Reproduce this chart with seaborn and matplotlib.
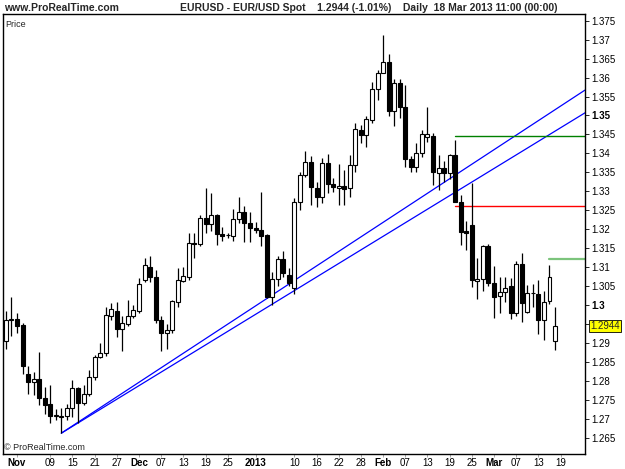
import numpy as np
import pandas as pd
import matplotlib
matplotlib.use("Agg")
import matplotlib.pyplot as plt
import seaborn as sns

# daily EUR/USD candles, 30 Oct 2012 .. 18 Mar 2013 (weekdays)
dates = pd.bdate_range("2012-10-30", "2013-03-18")

opens = [1.2904, 1.2960, 1.2963, 1.2948, 1.2818, 1.2798, 1.2804, 1.2754, 1.2739, 1.2706,
         1.2705, 1.2706, 1.2728, 1.2781, 1.2741, 1.2766, 1.2811, 1.2862, 1.2873, 1.2971,
         1.2985, 1.2936, 1.2950, 1.2971, 1.2985, 1.3065, 1.3100, 1.3073, 1.2960, 1.2925,
         1.2935, 1.3009, 1.3064, 1.3075, 1.3164, 1.3161, 1.3230, 1.3213, 1.3238, 1.3188,
         1.3184, 1.3182, 1.3226, 1.3246, 1.3217, 1.3203, 1.3198, 1.3185, 1.3022, 1.3068,
         1.3121, 1.3079, 1.3045, 1.3273, 1.3343, 1.3376, 1.3308, 1.3284, 1.3374, 1.3319,
         1.3309, 1.3314, 1.3308, 1.3370, 1.3462, 1.3449, 1.3488, 1.3569, 1.3613, 1.3640,
         1.3512, 1.3585, 1.3522, 1.3385, 1.3365, 1.3402, 1.3444, 1.3446, 1.3349, 1.3361,
         1.3348, 1.3396, 1.3273, 1.3195, 1.3211, 1.3064, 1.3068, 1.3156, 1.3059, 1.3024,
         1.3035, 1.3049, 1.2978, 1.3108, 1.2982, 1.3033, 1.3028, 1.2961, 1.3010, 1.2905]
highs = [1.2983, 1.3022, 1.2980, 1.2952, 1.2838, 1.2824, 1.2877, 1.2785, 1.2788, 1.2725,
         1.2728, 1.2740, 1.2803, 1.2783, 1.2790, 1.2829, 1.2868, 1.2899, 1.2994, 1.3006,
         1.3009, 1.2971, 1.3013, 1.3000, 1.3070, 1.3125, 1.3128, 1.3093, 1.2970, 1.2950,
         1.3012, 1.3097, 1.3100, 1.3189, 1.3190, 1.3238, 1.3308, 1.3295, 1.3240, 1.3207,
         1.3190, 1.3253, 1.3286, 1.3260, 1.3246, 1.3220, 1.3299, 1.3187, 1.3088, 1.3130,
         1.3143, 1.3097, 1.3282, 1.3352, 1.3405, 1.3393, 1.3325, 1.3387, 1.3398, 1.3334,
         1.3372, 1.3356, 1.3396, 1.3479, 1.3475, 1.3499, 1.3589, 1.3620, 1.3712, 1.3662,
         1.3595, 1.3595, 1.3580, 1.3392, 1.3427, 1.3462, 1.3522, 1.3455, 1.3396, 1.3381,
         1.3398, 1.3435, 1.3290, 1.3222, 1.3321, 1.3123, 1.3159, 1.3161, 1.3103, 1.3075,
         1.3075, 1.3071, 1.3117, 1.3136, 1.3053, 1.3055, 1.3066, 1.3038, 1.3105, 1.2996]
lows = [1.2883, 1.2917, 1.2926, 1.2818, 1.2766, 1.2763, 1.2737, 1.2713, 1.2688, 1.2697,
        1.2662, 1.2697, 1.2705, 1.2690, 1.2737, 1.2760, 1.2803, 1.2860, 1.2866, 1.2960,
        1.2915, 1.2880, 1.2945, 1.2965, 1.2980, 1.3060, 1.3062, 1.2952, 1.2880, 1.2885,
        1.2925, 1.2996, 1.3062, 1.3066, 1.3123, 1.3156, 1.3189, 1.3194, 1.3159, 1.3170,
        1.3178, 1.3170, 1.3217, 1.3167, 1.3167, 1.3189, 1.3156, 1.3018, 1.3000, 1.3050,
        1.3075, 1.3049, 1.3030, 1.3251, 1.3339, 1.3264, 1.3258, 1.3270, 1.3295, 1.3299,
        1.3264, 1.3264, 1.3286, 1.3352, 1.3427, 1.3416, 1.3481, 1.3541, 1.3611, 1.3499,
        1.3471, 1.3493, 1.3365, 1.3352, 1.3352, 1.3390, 1.3431, 1.3317, 1.3304, 1.3325,
        1.3332, 1.3273, 1.3159, 1.3145, 1.3047, 1.3016, 1.3038, 1.3050, 1.2965, 1.2980,
        1.3009, 1.2963, 1.2972, 1.2954, 1.2978, 1.2995, 1.2923, 1.2909, 1.3002, 1.2881]
closes = [1.2961, 1.2963, 1.2945, 1.2840, 1.2798, 1.2804, 1.2754, 1.2737, 1.2708, 1.2711,
          1.2708, 1.2728, 1.2781, 1.2741, 1.2766, 1.2811, 1.2862, 1.2873, 1.2974, 1.2989,
          1.2936, 1.2952, 1.2971, 1.2987, 1.3055, 1.3105, 1.3073, 1.2961, 1.2925, 1.2935,
          1.3010, 1.3066, 1.3077, 1.3163, 1.3161, 1.3229, 1.3213, 1.3238, 1.3188, 1.3182,
          1.3185, 1.3226, 1.3246, 1.3216, 1.3203, 1.3198, 1.3182, 1.3022, 1.3068, 1.3121,
          1.3084, 1.3057, 1.3273, 1.3343, 1.3376, 1.3311, 1.3284, 1.3374, 1.3319, 1.3311,
          1.3314, 1.3307, 1.3370, 1.3464, 1.3449, 1.3490, 1.3569, 1.3613, 1.3640, 1.3512,
          1.3585, 1.3523, 1.3385, 1.3365, 1.3402, 1.3451, 1.3451, 1.3350, 1.3361, 1.3349,
          1.3396, 1.3273, 1.3192, 1.3190, 1.3066, 1.3068, 1.3156, 1.3059, 1.3022, 1.3035,
          1.3046, 1.2978, 1.3108, 1.3005, 1.3033, 1.3031, 1.2960, 1.3009, 1.3074, 1.2944]

# x-axis ticks (bar index) and labels
tick_idx = [2, 8, 12, 16, 20, 24, 28, 32, 36, 40, 45, 52, 56, 60, 64, 68, 72, 76, 80, 84, 88, 92, 96, 100]
tick_lbl = ["Nov", "09", "15", "21", "27", "Dec", "07", "13", "19", "25", "2013", "10", "16", "22",
            "28", "Feb", "07", "13", "19", "25", "Mar", "07", "13", "19"]
bold_lbl = ["Nov", "Dec", "2013", "Feb", "Mar"]

price_ticks = [1.265, 1.27, 1.275, 1.28, 1.285, 1.29, 1.295, 1.3, 1.305, 1.31, 1.315, 1.32,
               1.325, 1.33, 1.335, 1.34, 1.345, 1.35, 1.355, 1.36, 1.365, 1.37, 1.375]

# drawn objects: trend lines (from 13 Nov low) and horizontal levels
trend_x = [10, 104.4]
trend_upper = [1.2662, 1.3567]
trend_lower = [1.2662, 1.3507]
level_green = (81, 1.3445)
level_red = (81, 1.3262)
level_light = (98, 1.3121)
last_price = 1.2944

sns.set_style("white")
plt.rcParams["font.family"] = ["Liberation Sans", "DejaVu Sans"]

fig = plt.figure(figsize=(6.25, 4.69), dpi=100)
ax = fig.add_axes([3 / 625, 1 - 454 / 469, 582 / 625, 440 / 469])

xmin, xmax = -0.52, 104.4
ymin, ymax = 1.2607, 1.37677

df = pd.DataFrame({"i": np.arange(len(dates)), "open": opens, "high": highs,
                   "low": lows, "close": closes})
df["up"] = df["close"] >= df["open"]
df["bottom"] = df[["open", "close"]].min(axis=1)
df["height"] = (df["close"] - df["open"]).abs().clip(lower=0.00012)

# trend lines + levels
tl = pd.DataFrame({"x": trend_x * 2, "y": trend_upper + trend_lower,
                   "line": ["a", "a", "b", "b"]})
sns.lineplot(data=tl, x="x", y="y", units="line", estimator=None, color="#0000ff",
             lw=0.9, ax=ax, zorder=1)
for (start, val), col, lw in [(level_green, "#008000", 1.0), (level_red, "#ff0000", 1.0),
                              (level_light, "#7cc47c", 1.6)]:
    lv = pd.DataFrame({"x": [start, xmax], "y": [val, val]})
    sns.lineplot(data=lv, x="x", y="y", color=col, lw=lw, ax=ax, zorder=1)

# candles
ax.vlines(df["i"], df["low"], df["high"], color="black", lw=0.9, zorder=2)
ax.bar(df["i"], df["height"], bottom=df["bottom"], width=0.72,
       color=np.where(df["up"], "white", "black"), edgecolor="black", lw=0.8, zorder=3)

ax.set_xlim(xmin, xmax)
ax.set_ylim(ymin, ymax)
ax.set_xlabel("")
ax.set_ylabel("")
for s in ax.spines.values():
    s.set_color("black")
    s.set_linewidth(1.0)

ax.yaxis.tick_right()
ax.set_yticks(price_ticks)
# the last-price box sits where 1.295 would be labelled
ylabels = ["" if abs(v - 1.295) < 1e-9 else f"{v:.3f}".rstrip("0").rstrip(".")
           for v in price_ticks]
ax.set_yticklabels(ylabels)
for t in ax.get_yticklabels():
    if t.get_text() in ("1.35", "1.3"):
        t.set_fontweight("bold")
ax.tick_params(axis="y", right=True, length=3, width=0.6, pad=1.5, labelsize=7, colors="black")

ax.set_xticks(tick_idx)
ax.set_xticklabels(tick_lbl)
for t in ax.get_xticklabels():
    if t.get_text() in bold_lbl:
        t.set_fontweight("bold")
ax.tick_params(axis="x", bottom=True, length=2.5, width=0.6, pad=0.5, labelsize=7, colors="black")
ax.tick_params(axis="x", color="#999999")

# current price box
ax.annotate(f"{last_price:.4f}", xy=(1.0, last_price), xycoords=("axes fraction", "data"),
            xytext=(3.5, 0), textcoords="offset points", va="center", ha="left", fontsize=7,
            bbox=dict(boxstyle="square,pad=0.12", fc="#ffff00", ec="black", lw=0.6),
            annotation_clip=False)

ax.text(0.004, 0.986, "Price", transform=ax.transAxes, fontsize=6.5, va="top", ha="left")
ax.text(0.002, 0.004, "© ProRealTime.com", transform=ax.transAxes, fontsize=6.5,
        va="bottom", ha="left")

fig.text(4 / 625, 1 - 8 / 469, "www.ProRealTime.com", fontsize=7.5, fontweight="bold",
         va="center", ha="left")
fig.text(369 / 625, 1 - 8 / 469,
         "EURUSD - EUR/USD Spot    1.2944 (-1.01%)    Daily  18 Mar 2013 11:00 (00:00)",
         fontsize=7.5, fontweight="bold", va="center", ha="center")

fig.savefig("out.png", dpi=100)
